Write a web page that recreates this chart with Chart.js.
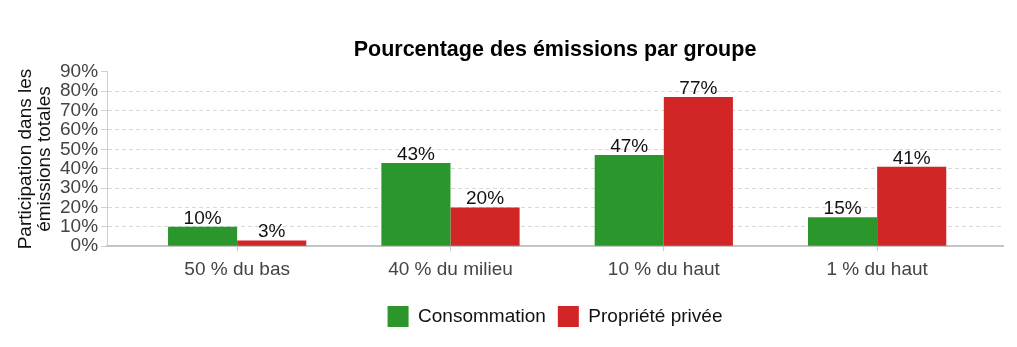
<!DOCTYPE html>
<html lang="fr">
<head>
  <meta charset="UTF-8">
  <title>Pourcentage des émissions par groupe</title>
  <script src="https://cdn.jsdelivr.net/npm/chart.js"></script>
  <style>
    body {
      margin: 0;
      background-color: #fff;
    }
  </style>
</head>
<body>
  <canvas id="emissionsChart" width="1017" height="347"></canvas>

  <script>
    const groups = ['50 % du bas', '40 % du milieu', '10 % du haut', '1 % du haut'];
    const consumption = [10, 43, 47, 15];
    const privateProperty = [3, 20, 77, 41];
    const yTicks = [0, 10, 20, 30, 40, 50, 60, 70, 80, 90];

    const FONT = "'Liberation Sans', Arial, sans-serif";

    // put a value label on top of every bar
    const barLabels = {
      id: 'barLabels',
      afterDatasetsDraw(chart) {
        const ctx = chart.ctx;
        ctx.save();
        ctx.font = '19px ' + FONT;
        ctx.fillStyle = '#111';
        ctx.textAlign = 'center';
        ctx.textBaseline = 'alphabetic';
        chart.data.datasets.forEach((ds, i) => {
          const meta = chart.getDatasetMeta(i);
          meta.data.forEach((bar, j) => {
            ctx.fillText(ds.data[j].y + '%', bar.x, bar.y - 3);
          });
        });
        ctx.restore();
      }
    };

    const toPoints = values => values.map((v, i) => ({ x: i, y: v }));

    new Chart(document.getElementById('emissionsChart'), {
      type: 'bar',
      data: {
        datasets: [
          {
            label: 'Consommation',
            data: toPoints(consumption),
            backgroundColor: '#2a962b',
            borderWidth: 0
          },
          {
            label: 'Propriété privée',
            data: toPoints(privateProperty),
            backgroundColor: '#d12526',
            borderWidth: 0
          }
        ]
      },
      options: {
        responsive: false,
        animation: false,
        categoryPercentage: 0.648,
        barPercentage: 1,
        layout: {
          padding: { left: 16, right: 14, top: 0, bottom: 10 }
        },
        plugins: {
          title: {
            display: true,
            fullSize: false,
            text: 'Pourcentage des émissions par groupe',
            color: '#000',
            font: { family: FONT, size: 21.5, weight: 'bold' },
            padding: { top: 37, bottom: 9 }
          },
          legend: {
            position: 'bottom',
            fullSize: false,
            labels: {
              boxWidth: 21,
              boxHeight: 21,
              padding: 12,
              color: '#111',
              font: { family: FONT, size: 19 }
            }
          },
          tooltip: { enabled: false }
        },
        scales: {
          x: {
            type: 'linear',
            min: -0.61,
            max: 3.59,
            offset: false,
            grid: {
              offset: false,
              drawOnChartArea: false,
              drawTicks: true,
              tickLength: 5,
              tickColor: '#c8c8c8'
            },
            border: { color: '#c4c4c4', width: 2 },
            afterFit: scale => {
              scale.height += 6;
            },
            ticks: {
              stepSize: 1,
              includeBounds: false,
              padding: 7,
              color: '#444',
              font: { family: FONT, size: 19 },
              callback: v => groups[v] ?? ''
            }
          },
          y: {
            min: 0,
            max: 90,
            grid: {
              color: ctx => (ctx.tick && (ctx.tick.value === 90 || ctx.tick.value === 0)) ? 'rgba(0,0,0,0)' : '#d9d9d9',
              tickColor: '#cfcfcf',
              tickLength: 6
            },
            border: { color: '#cfcfcf', width: 1, dash: [4, 3] },
            afterBuildTicks: scale => {
              scale.ticks = yTicks.map(v => ({ value: v }));
            },
            ticks: {
              autoSkip: false,
              padding: 3,
              color: '#444',
              font: { family: FONT, size: 19 },
              callback: v => v + '%'
            },
            title: {
              display: true,
              text: ['Participation dans les', 'émissions totales'],
              color: '#111',
              font: { family: FONT, size: 19, lineHeight: 1.0 },
              padding: { top: 0, bottom: 3 }
            }
          }
        }
      },
      plugins: [barLabels]
    });
  </script>
</body>
</html>
